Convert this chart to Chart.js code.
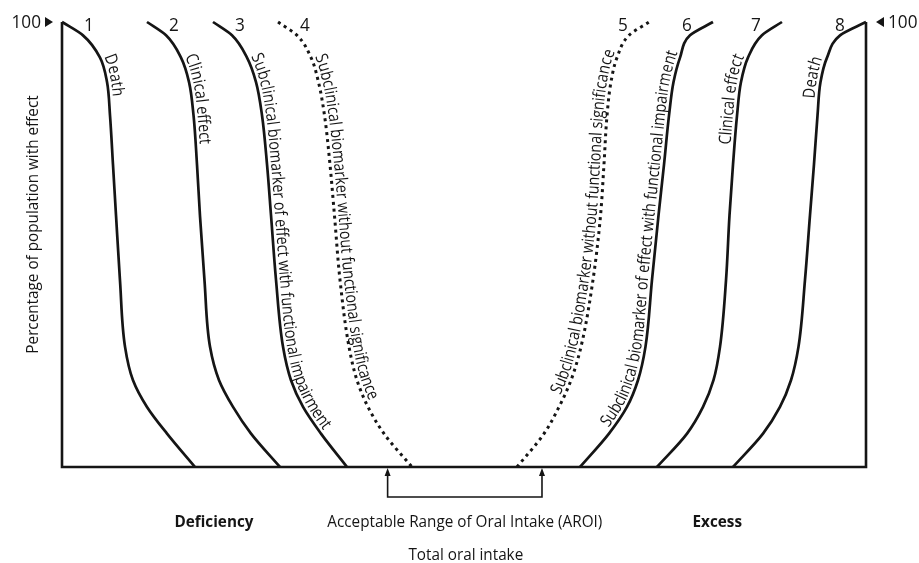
<!DOCTYPE html>
<html>
<head>
<meta charset="utf-8">
<title>Total oral intake and population effects</title>
<script src="https://cdn.jsdelivr.net/npm/chart.js@4.4.1/dist/chart.umd.min.js"></script>
<style>
    html, body { margin: 0; padding: 0; background: #fff; }
    canvas { display: block; }
</style>
</head>
<body>
<canvas id="chartCanvasId" width="919" height="563"></canvas>
<script>
"use strict";

// percentage of population with effect, shared by all curves (top to bottom)
const yLevels = [100, 97, 92, 86.5, 79, 68, 56.5, 42, 27, 19.5, 13.5, 7.5, 0]

// total oral intake (0 - 100) where each curve crosses those levels
// deficiency side
const deathLow      = [0, 2.61, 4.73, 5.60, 5.97, 6.34, 6.72, 7.21, 7.84, 8.83, 10.57, 13.06, 16.54]
const clinicalLow   = [10.57, 12.94, 14.80, 15.80, 16.36, 16.79, 17.16, 17.72, 18.41, 19.53, 21.27, 23.51, 27.11]
const impairLow     = [18.78, 21.14, 23.01, 24.13, 24.88, 25.50, 26.00, 26.62, 27.49, 28.48, 29.98, 32.21, 35.45]
const biomarkerLow  = [26.87, 29.23, 30.97, 31.90, 32.65, 33.33, 33.89, 34.58, 35.70, 36.69, 38.06, 40.05, 43.53]
// excess side
const biomarkerHigh = [73.01, 70.52, 69.03, 68.28, 67.79, 67.41, 66.98, 66.04, 64.55, 63.31, 61.82, 59.95, 56.59]
const impairHigh    = [80.97, 78.11, 76.87, 76.06, 75.50, 74.88, 74.19, 73.38, 72.57, 71.64, 70.27, 68.03, 64.43]
const clinicalHigh  = [89.55, 87.06, 85.32, 84.45, 83.96, 83.46, 83.02, 82.59, 81.84, 81.03, 79.73, 77.74, 74.00]
const deathHigh     = [100, 96.77, 95.15, 94.34, 93.97, 93.53, 93.03, 92.41, 91.60, 90.67, 89.30, 87.19, 83.46]

const curveNumbers = ["1", "2", "3", "4", "5", "6", "7", "8"]
const curveNames = [
    "Death",
    "Clinical effect",
    "Subclinical biomarker of effect with functional impairment",
    "Subclinical biomarker without functional significance",
    "Subclinical biomarker without functional significance",
    "Subclinical biomarker of effect with functional impairment",
    "Clinical effect",
    "Death"
]
const dottedCurve = [false, false, false, true, true, false, false, false]

// acceptable range of oral intake
const aroiRange = [40.5, 59.7]

const yTitle     = "Percentage of population with effect"
const xTitle     = "Total oral intake"
const aroiLabel  = "Acceptable Range of Oral Intake (AROI)"
const lowLabel   = "Deficiency"
const highLabel  = "Excess"
const maxLabel   = "100"

const INK = "#151515"
const FONT = "'Open Sans', 'DejaVu Sans', sans-serif"

// pixel row where each label starts along its curve
const labelStartY = [58, 58, 58, 58, 397, 430, 145, 99]

function toPoints(xs, reverse) {
    const pts = xs.map((x, i) => ({ x: x, y: yLevels[i] }))
    return reverse ? pts.reverse() : pts
}

const curveData = [
    toPoints(deathLow, false),
    toPoints(clinicalLow, false),
    toPoints(impairLow, false),
    toPoints(biomarkerLow, false),
    toPoints(biomarkerHigh, true),
    toPoints(impairHigh, true),
    toPoints(clinicalHigh, true),
    toPoints(deathHigh, true)
]

const datasets = curveData.map((pts, i) => ({
    label: curveNames[i],
    data: pts,
    borderColor: INK,
    borderWidth: dottedCurve[i] ? 3 : 2.7,
    borderDash: dottedCurve[i] ? [3, 4] : [],
    cubicInterpolationMode: "monotone",
    pointRadius: 0,
    clip: false
}))

// frame: left edge, baseline, right edge
datasets.push({
    label: "frame",
    data: [{ x: 0, y: 100 }, { x: 0, y: 0 }, { x: 100, y: 0 }, { x: 100, y: 100 }],
    borderColor: INK,
    borderWidth: 2.6,
    tension: 0,
    borderJoinStyle: "miter",
    pointRadius: 0,
    clip: false
})

// ---- helpers for the annotation plugin ----

function sampleCurve(meta) {
    const pts = meta.data
    const out = []
    for (let i = 0; i < pts.length - 1; i++) {
        const a = pts[i], b = pts[i + 1]
        const c1x = a.cp2x ?? a.x, c1y = a.cp2y ?? a.y
        const c2x = b.cp1x ?? b.x, c2y = b.cp1y ?? b.y
        for (let k = 0; k < 24; k++) {
            const t = k / 24, u = 1 - t
            out.push({
                x: u * u * u * a.x + 3 * u * u * t * c1x + 3 * u * t * t * c2x + t * t * t * b.x,
                y: u * u * u * a.y + 3 * u * u * t * c1y + 3 * u * t * t * c2y + t * t * t * b.y
            })
        }
    }
    const last = pts[pts.length - 1]
    out.push({ x: last.x, y: last.y })
    return out
}

function textAlongCurve(ctx, path, text, startY, gap, squeeze) {
    const len = [0]
    for (let i = 1; i < path.length; i++) {
        len.push(len[i - 1] + Math.hypot(path[i].x - path[i - 1].x, path[i].y - path[i - 1].y))
    }
    const goingDown = path[path.length - 1].y > path[0].y
    let s0 = 0
    for (let i = 1; i < path.length; i++) {
        const reached = goingDown ? path[i].y >= startY : path[i].y <= startY
        if (reached) {
            const f = (startY - path[i - 1].y) / ((path[i].y - path[i - 1].y) || 1)
            s0 = len[i - 1] + f * (len[i] - len[i - 1])
            break
        }
    }
    let cursor = s0
    for (const ch of text) {
        const w = ctx.measureText(ch).width * squeeze
        const s = cursor + w / 2
        let i = 1
        while (i < path.length - 1 && len[i] < s) i++
        // tangent from a short window so glyphs do not jitter
        const j0 = Math.max(0, i - 4), j1 = Math.min(path.length - 1, i + 3)
        const p0 = path[i - 1], p1 = path[i]
        const f = (s - len[i - 1]) / ((len[i] - len[i - 1]) || 1)
        const x = p0.x + f * (p1.x - p0.x)
        const y = p0.y + f * (p1.y - p0.y)
        const a = Math.atan2(path[j1].y - path[j0].y, path[j1].x - path[j0].x)
        ctx.save()
        ctx.translate(x + Math.sin(a) * gap, y - Math.cos(a) * gap)
        ctx.rotate(a)
        ctx.scale(squeeze, 1)
        ctx.fillText(ch, 0, 0)
        ctx.restore()
        cursor += w
    }
}

function squeezedText(ctx, text, x, y, squeeze, align) {
    ctx.save()
    ctx.translate(x, y)
    ctx.scale(squeeze, 1)
    ctx.textAlign = align || "center"
    ctx.fillText(text, 0, 0)
    ctx.restore()
}

const annotations = {
    id: "annotations",
    afterDatasetsDraw(chart) {
        const ctx = chart.ctx
        const xs = chart.scales.x
        const ys = chart.scales.y
        const base = ys.getPixelForValue(0)
        const top = ys.getPixelForValue(100)

        ctx.save()
        ctx.fillStyle = INK
        ctx.strokeStyle = INK

        // one squeeze for all text, taken from the AROI label width
        ctx.font = "16px " + FONT
        const squeeze = 275 / ctx.measureText(aroiLabel).width

        // curve numbers next to the top of each curve
        ctx.font = "18px " + FONT
        ctx.textBaseline = "middle"
        for (let i = 0; i < 8; i++) {
            const meta = chart.getDatasetMeta(i)
            const p = i < 4 ? meta.data[0] : meta.data[meta.data.length - 1]
            squeezedText(ctx, curveNumbers[i], p.x + (i < 4 ? 27 : -26), top + 4, squeeze)
        }

        // 100 markers
        squeezedText(ctx, maxLabel, xs.getPixelForValue(0) - 21, top + 1, squeeze, "right")
        squeezedText(ctx, maxLabel, xs.getPixelForValue(100) + 22, top + 1, squeeze, "left")
        const lx = xs.getPixelForValue(0), rx = xs.getPixelForValue(100)
        ctx.beginPath()
        ctx.moveTo(lx - 17, top - 5); ctx.lineTo(lx - 17, top + 5); ctx.lineTo(lx - 9, top); ctx.closePath()
        ctx.moveTo(rx + 18, top - 5); ctx.lineTo(rx + 18, top + 5); ctx.lineTo(rx + 10, top); ctx.closePath()
        ctx.fill()

        // labels running along the curves
        ctx.font = "17px " + FONT
        ctx.textAlign = "center"
        ctx.textBaseline = "alphabetic"
        const labelSqueeze = squeeze * 15 / 17
        for (let i = 0; i < 8; i++) {
            const path = sampleCurve(chart.getDatasetMeta(i))
            textAlongCurve(ctx, path, curveNames[i], labelStartY[i], 4, labelSqueeze)
        }

        // AROI bracket with arrows up to the baseline
        const ax0 = xs.getPixelForValue(aroiRange[0])
        const ax1 = xs.getPixelForValue(aroiRange[1])
        const depth = base + 30
        ctx.lineWidth = 1.6
        ctx.beginPath()
        ctx.moveTo(ax0, base + 6); ctx.lineTo(ax0, depth); ctx.lineTo(ax1, depth); ctx.lineTo(ax1, base + 6)
        ctx.stroke()
        ctx.beginPath()
        for (const ax of [ax0, ax1]) {
            ctx.moveTo(ax, base + 1); ctx.lineTo(ax - 3, base + 9); ctx.lineTo(ax + 3, base + 9); ctx.closePath()
        }
        ctx.fill()

        // bottom texts
        ctx.textBaseline = "middle"
        ctx.font = "bold 16px " + FONT
        squeezedText(ctx, lowLabel, xs.getPixelForValue(18.9), base + 55, squeeze)
        squeezedText(ctx, highLabel, xs.getPixelForValue(81.5), base + 55, squeeze)
        ctx.font = "16px " + FONT
        squeezedText(ctx, aroiLabel, (ax0 + ax1) / 2, base + 55, squeeze)
        squeezedText(ctx, xTitle, (ax0 + ax1) / 2 + 1, base + 88, squeeze)

        // y axis title
        ctx.save()
        ctx.translate(xs.getPixelForValue(0) - 29, ys.getPixelForValue(54.5))
        ctx.rotate(-Math.PI / 2)
        squeezedText(ctx, yTitle, 0, 0, squeeze)
        ctx.restore()

        ctx.restore()
    }
}

const chartCanvas = document.getElementById("chartCanvasId")
const myChart = new Chart(chartCanvas.getContext("2d"), {
    type: "line",
    data: { datasets: datasets },
    options: {
        // curves are x = f(percentage), so interpolate along the y axis
        indexAxis: "y",
        responsive: false,
        animation: false,
        devicePixelRatio: 1,
        layout: { padding: { left: 62, right: 53, top: 22, bottom: 96 } },
        scales: {
            x: { type: "linear", min: 0, max: 100, display: false },
            y: { type: "linear", min: 0, max: 100, display: false }
        },
        plugins: {
            legend: { display: false },
            tooltip: { enabled: false }
        }
    },
    plugins: [annotations]
})
</script>
</body>
</html>
